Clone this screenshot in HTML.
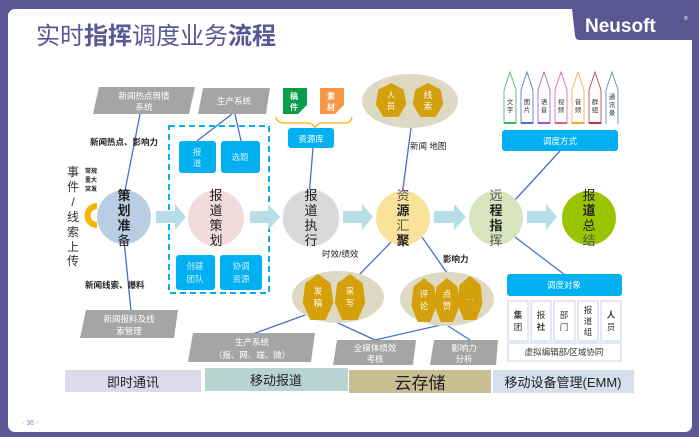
<!DOCTYPE html>
<html><head><meta charset="utf-8"><style>
body{margin:0;width:699px;height:437px;overflow:hidden;background:#5b5795;font-family:"Liberation Sans","Noto Sans CJK SC",sans-serif}
svg{position:absolute;left:0;top:0}
</style></head><body>
<svg width="699" height="437" viewBox="0 0 699 437" font-family="Liberation Sans, Noto Sans CJK SC, sans-serif">
<defs>
<polygon id="hep" points="0,-20 15,-12 18,5 9,20 -9,20 -18,5 -15,-12"/>
</defs>
<rect x="8" y="9" width="684" height="423" rx="7" fill="#fff"/>
<path d="M572 9 H692 V40 Q692 40 692 40 H580 Q575 40 575 35 Z" fill="#5b5795"/>
<text x="585" y="32" fill="#fff" font-size="19" font-weight="bold">Neusoft</text>
<text x="684" y="20" fill="#fff" font-size="5">®</text>
<text x="36" y="44" fill="#5b5795" font-size="24">实时<tspan font-weight="bold">指挥</tspan>调度业务<tspan font-weight="bold">流程</tspan></text>

<!-- lines -->
<g stroke="#4472c4" stroke-width="1.3" fill="none">
<line x1="140" y1="114" x2="124" y2="196"/>
<line x1="232" y1="114" x2="197" y2="141"/>
<line x1="235" y1="114" x2="241" y2="141"/>
<line x1="313" y1="148" x2="309" y2="196"/>
<line x1="124" y1="240" x2="131" y2="311"/>
<line x1="411" y1="128" x2="402" y2="196"/>
<line x1="395" y1="238" x2="358" y2="276"/>
<line x1="422" y1="237" x2="447" y2="273"/>
<line x1="560" y1="151" x2="515" y2="200"/>
<line x1="515" y1="237" x2="565" y2="275"/>
<line x1="305" y1="315" x2="250" y2="335"/>
<line x1="338" y1="323" x2="375" y2="340"/>
<line x1="445" y1="324" x2="375" y2="340"/>
<line x1="445" y1="324" x2="470" y2="340"/>
</g>

<!-- gray parallelograms -->
<g fill="#a5a5a5">
<polygon points="99,87 195,87 189,114 93,114"/>
<polygon points="203,88 270,88 266,114 198,114"/>
<polygon points="86,310 178,310 174,338 80,338"/>
<polygon points="193,333 315,333 311,362 188,362"/>
<polygon points="337,340 416,340 413,365 333,365"/>
<polygon points="434,340 498,340 496,365 430,365"/>
</g>
<g fill="#fff" font-size="8.5" text-anchor="middle">
<text x="144" y="99">新闻热点舆情</text><text x="144" y="110">系统</text>
<text x="234" y="104">生产系统</text>
<text x="129" y="322">新闻报料及线</text><text x="129" y="334">索管理</text>
<text x="252" y="345">生产系统</text><text x="252" y="358">（报、网、端、微）</text>
<text x="375" y="351">全媒体绩效</text><text x="375" y="362">考核</text>
<text x="464" y="351">影响力</text><text x="464" y="362">分析</text>
</g>

<!-- 稿件 素材 -->
<rect x="283" y="88" width="24" height="26" fill="#0a9e4a"/>
<rect x="320" y="88" width="24" height="26" fill="#f79646"/>
<polygon points="307,105 307,114 298,114" fill="#fff"/><polygon points="344,105 344,114 335,114" fill="#fff"/>
<g fill="#fff" font-size="8" font-weight="bold" text-anchor="middle"><text x="294" y="99">稿</text><text x="294" y="110">件</text><text x="331" y="99">素</text><text x="331" y="110">材</text></g>
<path d="M276 117 Q277 123 285 123 H308 Q313 123 315 128 Q317 123 322 123 H345 Q351 123 352 117" stroke="#f5b400" stroke-width="1.3" fill="none"/>
<rect x="288" y="128" width="46" height="20" rx="3" fill="#00b0f0"/>
<text x="311" y="142" fill="#fff" font-size="8.5" text-anchor="middle">资源库</text>

<!-- dashed box -->
<rect x="169" y="126" width="100" height="167" fill="none" stroke="#00b0f0" stroke-width="2" stroke-dasharray="6,4"/>
<g fill="#00b0f0"><rect x="179" y="141" width="37" height="32" rx="3"/><rect x="221" y="141" width="39" height="32" rx="3"/><rect x="176" y="255" width="39" height="35" rx="3"/><rect x="220" y="255" width="42" height="35" rx="3"/></g>
<g fill="#cdeffc" font-size="8.5" text-anchor="middle">
<text x="197" y="155">报</text><text x="197" y="166">道</text><text x="240" y="160">选题</text>
<text x="195" y="269">创建</text><text x="195" y="282">团队</text><text x="241" y="269">协调</text><text x="241" y="282">资源</text>
</g>

<!-- left text -->
<g font-size="12" fill="#333" text-anchor="middle"><text x="73" y="176">事</text><text x="73" y="191">件</text><text x="73" y="206">/</text><text x="73" y="221">线</text><text x="73" y="236">索</text><text x="73" y="251">上</text><text x="73" y="265">传</text></g>
<g font-size="6" fill="#222" font-weight="bold"><text x="85" y="173">常规</text><text x="85" y="182">重大</text><text x="85" y="191">突发</text></g>
<path d="M97 203 A12 12 0 0 0 97 228 L97 222 A6 6 0 0 1 97 209 Z" fill="#f5b400"/>
<text x="90" y="145" font-size="8.5" fill="#222" font-weight="bold">新闻热点、影响力</text>
<text x="85" y="288" font-size="8.5" fill="#222" font-weight="bold">新闻线索、爆料</text>
<text x="322" y="257" font-size="8.5" fill="#222">时效/绩效</text>
<text x="443" y="262" font-size="8.5" fill="#222" font-weight="bold">影响力</text>
<text x="410" y="149" font-size="8.5" fill="#222">新闻 地图</text>

<!-- arrows -->
<g fill="#b7dde8">
<polygon points="156,211 175,211 175,204 186,217 175,230 175,223 156,223"/>
<polygon points="250,211 268,211 268,204 280,217 268,230 268,223 250,223"/>
<polygon points="343,211 362,211 362,204 373,217 362,230 362,223 343,223"/>
<polygon points="434,211 454,211 454,204 466,217 454,230 454,223 434,223"/>
<polygon points="527,211 546,211 546,204 557,217 546,230 546,223 527,223"/>
</g>
<!-- circles -->
<circle cx="124" cy="217" r="27" fill="#b9cde5"/>
<circle cx="216" cy="218" r="28" fill="#f2dcdb"/>
<circle cx="311" cy="218" r="28" fill="#d9d9d9" stroke="#e5e0ec"/>
<circle cx="403" cy="218" r="27" fill="#f9e29a"/>
<circle cx="496" cy="218" r="27" fill="#d7e4bd"/>
<circle cx="589" cy="218" r="27" fill="#9bc400"/>
<g font-size="13" fill="#222" text-anchor="middle">
<text x="124" y="200" font-weight="bold">策</text><text x="124" y="215" font-weight="bold">划</text><text x="124" y="230" font-weight="bold">准</text><text x="124" y="245">备</text>
<text x="216" y="200">报</text><text x="216" y="215">道</text><text x="216" y="230">策</text><text x="216" y="245">划</text>
<text x="311" y="200">报</text><text x="311" y="215">道</text><text x="311" y="230">执</text><text x="311" y="245">行</text>
<text x="403" y="200" fill="#555">资</text><text x="403" y="215" font-weight="bold">源</text><text x="403" y="230" fill="#555">汇</text><text x="403" y="245" font-weight="bold">聚</text>
<text x="496" y="200" fill="#555">远</text><text x="496" y="215" font-weight="bold">程</text><text x="496" y="230" font-weight="bold">指</text><text x="496" y="245" fill="#555">挥</text>
<text x="589" y="200">报</text><text x="589" y="215" font-weight="bold">道</text><text x="589" y="230">总</text><text x="589" y="245" fill="#555">结</text>
</g>

<!-- ellipses -->
<ellipse cx="410" cy="101" rx="48" ry="27" fill="#ddd9c3"/>
<ellipse cx="338" cy="297" rx="46" ry="26" fill="#ddd9c3"/>
<ellipse cx="447" cy="299" rx="47" ry="27" fill="#ddd9c3"/>
<g fill="#d4a00b">
<use href="#hep" transform="translate(391,100) scale(0.85)"/><use href="#hep" transform="translate(428,100) scale(0.85)"/>
<use href="#hep" transform="translate(318,297) scale(0.85,1.15)"/><use href="#hep" transform="translate(350,297) scale(0.85,1.15)"/>
<use href="#hep" transform="translate(424,300) scale(0.7,1.1)"/><use href="#hep" transform="translate(447,300) scale(0.7,1.1)"/><use href="#hep" transform="translate(470,298) scale(0.7,1.1)"/>
</g>
<g fill="#fff" font-size="8.5" text-anchor="middle">
<text x="391" y="98">人</text><text x="391" y="109">员</text><text x="428" y="98">线</text><text x="428" y="109">索</text>
<text x="318" y="294">发</text><text x="318" y="306">稿</text><text x="350" y="294">采</text><text x="350" y="306">写</text>
<text x="424" y="297">评</text><text x="424" y="309">论</text><text x="447" y="297">点</text><text x="447" y="309">赞</text><text x="470" y="300">…</text>
</g>

<!-- pencils -->
<g fill="#fff" stroke-width="0.8">
<path d="M504 124 V90 L510 72 L516 90 V124" stroke="#46b068"/><path d="M521 124 V90 L527 72 L533 90 V124" stroke="#4472c4"/>
<path d="M538 124 V90 L544 72 L550 90 V124" stroke="#8e5cc4"/><path d="M555 124 V90 L561 72 L567 90 V124" stroke="#e05c93"/>
<path d="M572 124 V90 L578 72 L584 90 V124" stroke="#f2a83a"/><path d="M589 124 V90 L595 72 L601 90 V124" stroke="#c0304a"/>
<path d="M606 124 V90 L612 72 L618 90 V124" stroke="#4f81bd"/>
</g>
<g><rect x="504" y="122" width="12" height="2" fill="#46b068"/><rect x="521" y="122" width="12" height="2" fill="#4472c4"/><rect x="538" y="122" width="12" height="2" fill="#8e5cc4"/><rect x="555" y="122" width="12" height="2" fill="#e05c93"/><rect x="572" y="122" width="12" height="2" fill="#f2a83a"/><rect x="589" y="122" width="12" height="2" fill="#c0304a"/></g>
<g font-size="6.5" fill="#333" text-anchor="middle">
<text x="510" y="104">文</text><text x="510" y="112">字</text><text x="527" y="104">图</text><text x="527" y="112">片</text>
<text x="544" y="104">语</text><text x="544" y="112">音</text><text x="561" y="104">视</text><text x="561" y="112">频</text>
<text x="578" y="104">音</text><text x="578" y="112">频</text><text x="595" y="104">群</text><text x="595" y="112">组</text>
<text x="612" y="99">通</text><text x="612" y="107">讯</text><text x="612" y="115">录</text>
</g>
<rect x="502" y="130" width="116" height="21" rx="3" fill="#00b0f0"/>
<text x="560" y="144" fill="#fff" font-size="8.5" text-anchor="middle">调度方式</text>

<!-- 调度对象 -->
<rect x="507" y="274" width="115" height="22" rx="3" fill="#00b0f0"/>
<text x="564" y="288" fill="#fff" font-size="8.5" text-anchor="middle">调度对象</text>
<g fill="#fff" stroke="#c5d3e8"><rect x="508" y="301" width="20" height="40"/><rect x="531" y="301" width="20" height="40"/><rect x="554" y="301" width="21" height="40"/><rect x="578" y="301" width="20" height="40"/><rect x="601" y="301" width="20" height="40"/><rect x="508" y="343" width="113" height="18"/></g>
<g font-size="8.5" fill="#333" text-anchor="middle">
<text x="518" y="318" font-weight="bold">集</text><text x="518" y="330">团</text><text x="541" y="318">报</text><text x="541" y="330" font-weight="bold">社</text>
<text x="564" y="318">部</text><text x="564" y="330">门</text><text x="588" y="313">报</text><text x="588" y="324">道</text><text x="588" y="335">组</text>
<text x="611" y="318" font-weight="bold">人</text><text x="611" y="330">员</text>
<text x="564" y="355">虚拟编辑部/区域协同</text>
</g>

<!-- bottom bars -->
<rect x="65" y="370" width="136" height="22" fill="#ded9ea"/>
<rect x="205" y="368" width="143" height="23" fill="#b8d3d0"/>
<rect x="349" y="370" width="142" height="23" fill="#c8bd93"/>
<rect x="493" y="370" width="141" height="23" fill="#d6e0ec"/>
<g fill="#222" text-anchor="middle">
<text x="133" y="387" font-size="13">即时通讯</text>
<text x="276" y="385" font-size="13">移动报道</text>
<text x="420" y="389" font-size="17">云存储</text>
<text x="563" y="387" font-size="13">移动设备管理(EMM)</text>
</g>
<text x="22" y="425" font-size="7" fill="#8c87b5">- 36 -</text>
</svg>
</body></html>
